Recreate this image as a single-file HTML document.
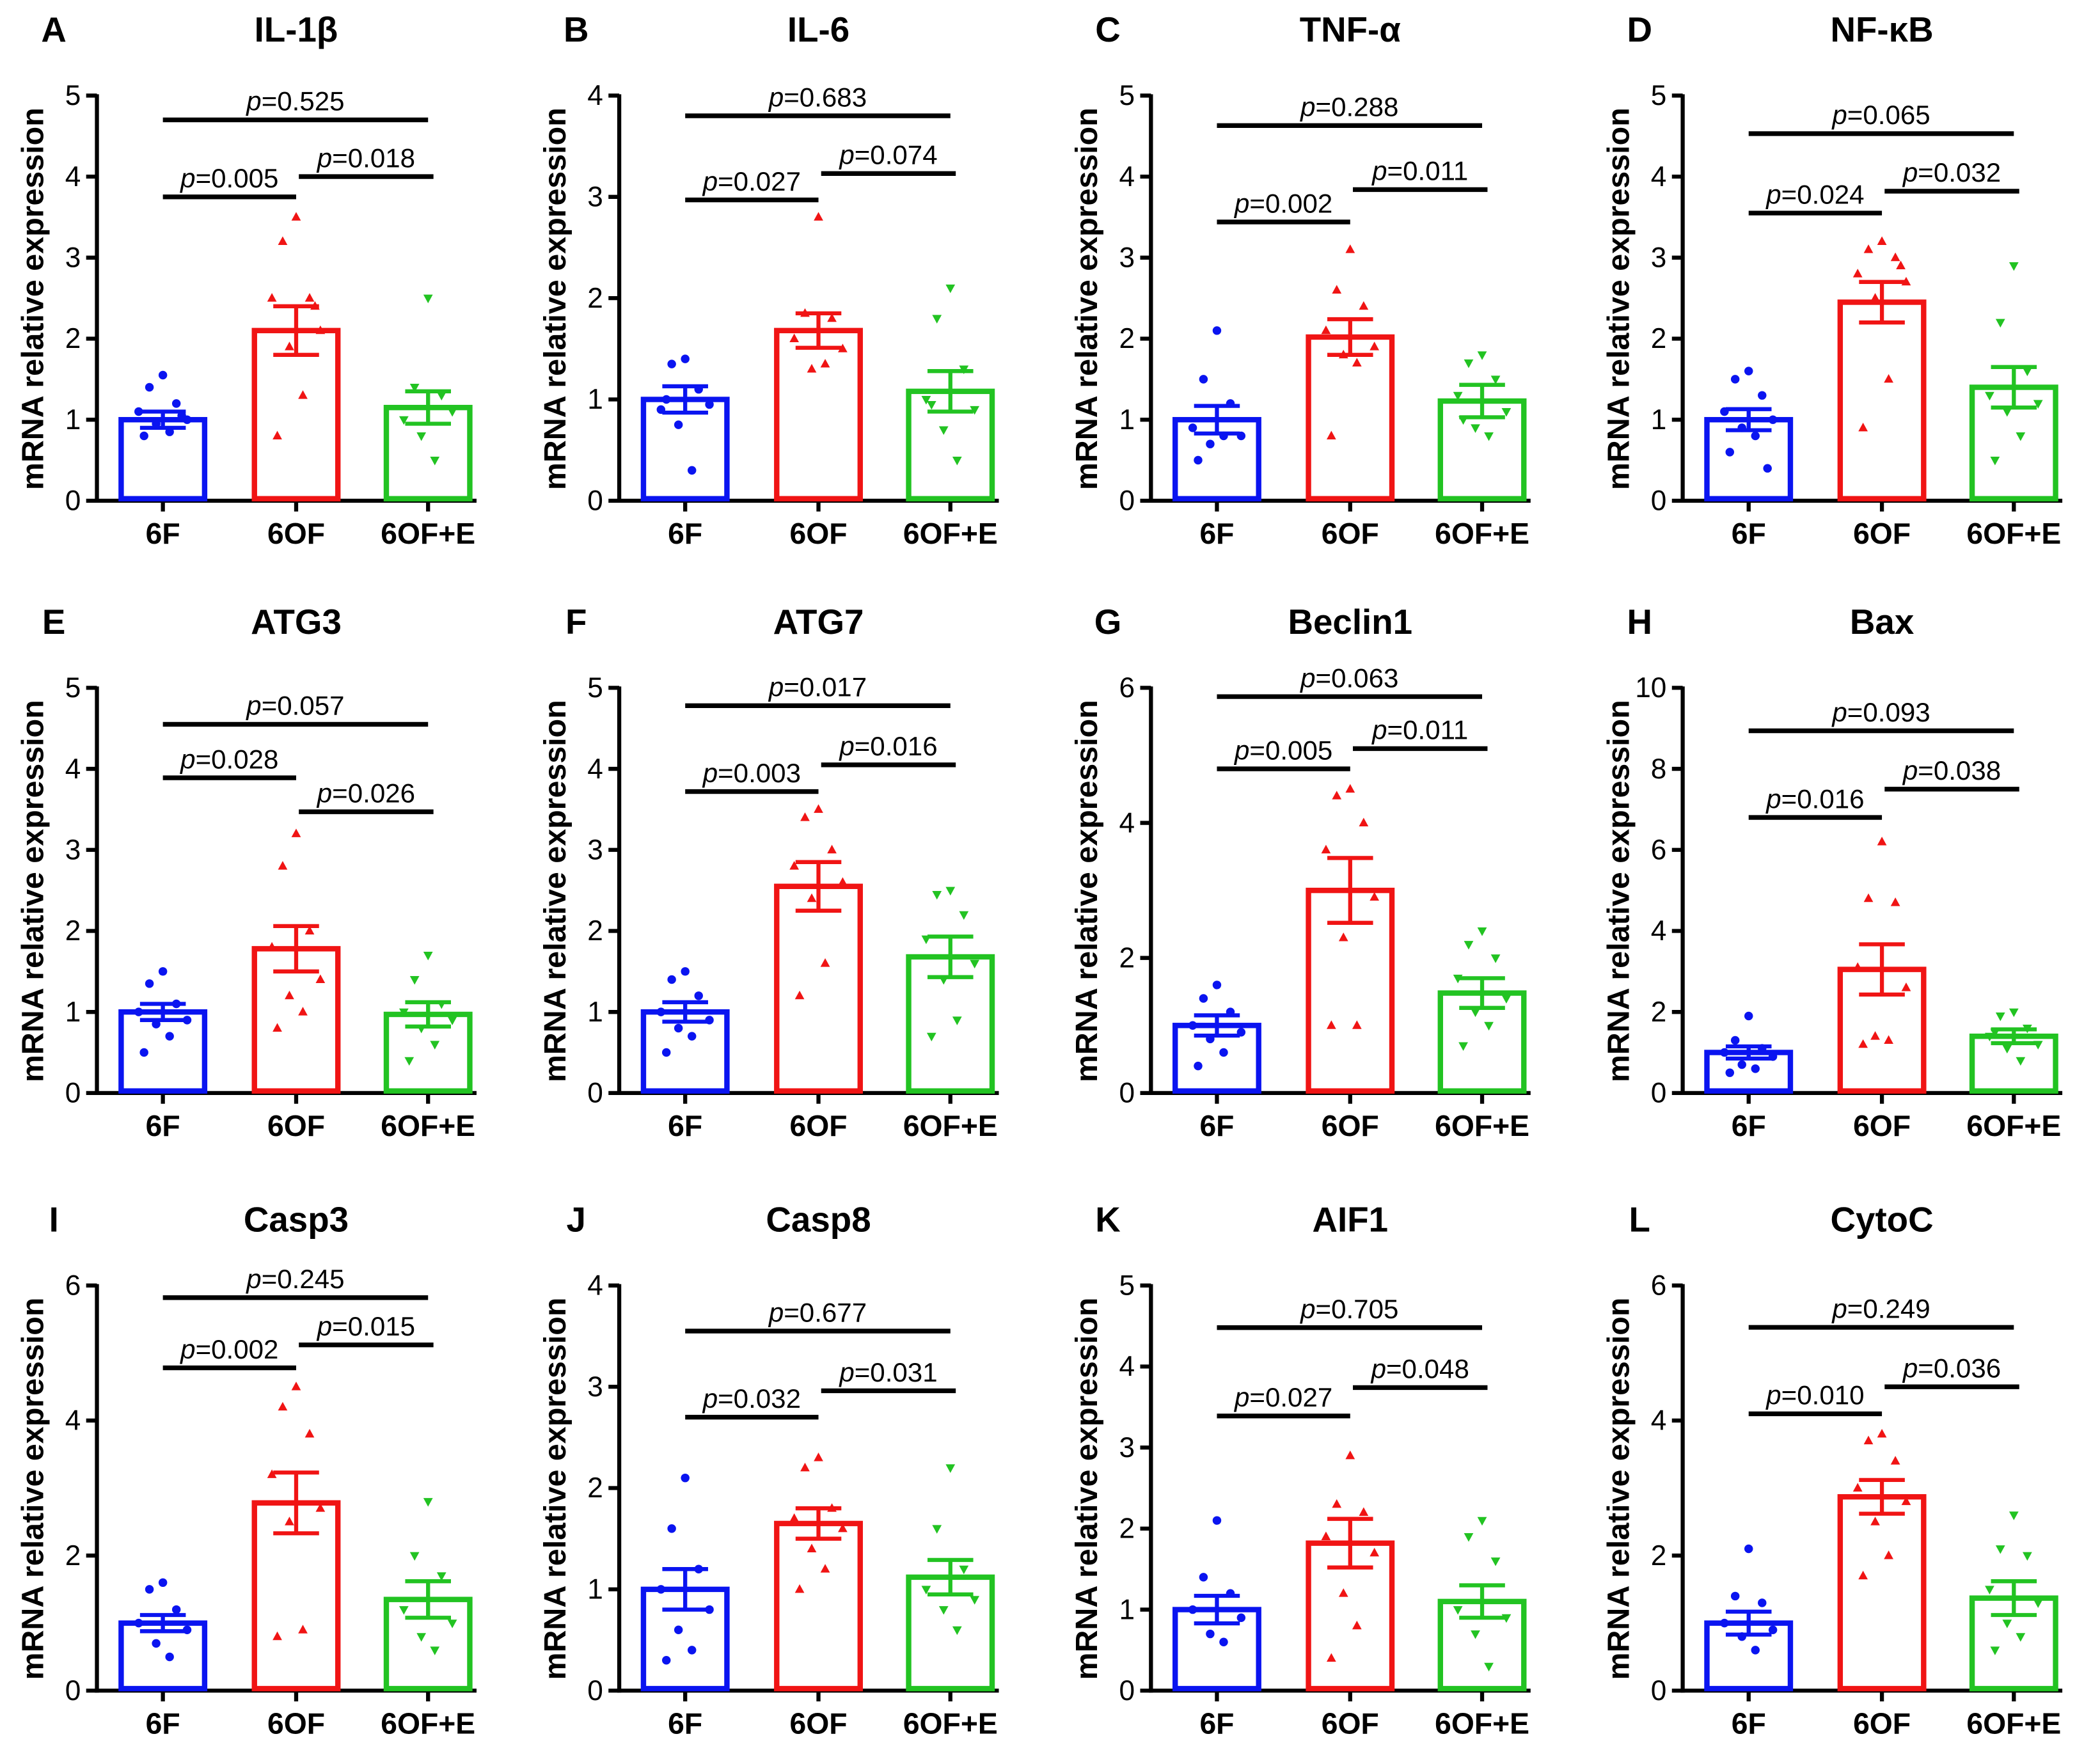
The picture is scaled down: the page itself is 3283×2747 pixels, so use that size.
<!DOCTYPE html>
<html><head><meta charset="utf-8"><style>
html,body{margin:0;padding:0;background:#fff}
svg{display:block}
text{font-family:"Liberation Sans",Arial,sans-serif}
</style></head><body>
<svg id="fig" xmlns="http://www.w3.org/2000/svg" width="3283" height="2747" viewBox="0 0 1560 1305.3"></svg>
<script>
const panelLetters=["A","B","C","D","E","F","G","H","I","J","K","L"];
const panelTitles=["IL-1β","IL-6","TNF-α","NF-κB","ATG3","ATG7","Beclin1","Bax","Casp3","Casp8","AIF1","CytoC"];
const yMaxes=[5,4,5,5,5,5,6,10,6,4,5,6];
const yStepVals=[1,1,1,1,1,1,2,2,2,1,1,2];
const groups=["6F","6OF","6OF+E"];
const means=[[1.0,2.1,1.15],[1.0,1.68,1.08],[1.0,2.02,1.23],[1.0,2.45,1.4],[1.0,1.78,0.97],[1.0,2.55,1.68],[1.0,3.0,1.48],[1.0,3.05,1.4],[1.0,2.78,1.35],[1.0,1.65,1.12],[1.0,1.82,1.1],[1.0,2.87,1.37]];
const sems=[[0.1,0.3,0.2],[0.13,0.17,0.2],[0.17,0.22,0.2],[0.13,0.25,0.25],[0.1,0.28,0.15],[0.12,0.3,0.25],[0.15,0.48,0.22],[0.15,0.62,0.17],[0.12,0.45,0.27],[0.2,0.15,0.17],[0.17,0.3,0.2],[0.17,0.25,0.25]];
const points=[
[[1.55,1.4,1.2,1.1,1.0,0.95,0.85,0.8,1.05],[3.5,3.2,2.5,2.5,2.1,1.9,1.3,0.8,2.4],[2.5,1.4,1.3,1.0,1.1,0.8,0.5]],
[[1.4,1.35,1.1,0.9,0.95,0.75,0.3,1.0],[2.8,1.85,1.8,1.6,1.5,1.3,1.35],[2.1,1.8,1.3,1.0,0.9,0.7,0.4,0.95]],
[[2.1,1.5,1.2,0.9,0.8,0.7,0.8,0.5],[3.1,2.6,2.4,2.1,1.9,1.8,1.7,0.8],[1.8,1.7,1.5,1.3,1.1,0.9,0.8,1.0]],
[[1.6,1.5,1.3,1.1,1.0,0.9,0.8,0.6,0.4],[3.2,3.1,3.0,2.8,2.7,2.5,1.5,0.9,2.9],[2.9,2.2,1.6,1.3,1.2,1.1,0.8,0.5]],
[[1.5,1.35,1.1,1.0,0.9,0.85,0.7,0.5],[3.2,2.8,2.0,1.8,1.4,1.2,1.0,0.8],[1.7,1.4,1.1,1.0,0.9,0.8,0.6,0.4]],
[[1.5,1.4,1.2,1.0,0.9,0.8,0.7,0.5],[3.5,3.4,3.0,2.8,2.6,2.4,1.6,1.2],[2.5,2.45,2.2,1.9,1.6,1.4,0.9,0.7]],
[[1.6,1.4,1.2,1.0,0.9,0.8,0.6,0.4],[4.5,4.4,4.0,3.6,2.9,2.3,1.0,1.0],[2.4,2.2,2.0,1.7,1.4,1.2,1.0,0.7]],
[[1.9,1.3,1.1,1.0,0.9,0.7,0.6,0.5],[6.2,4.8,4.7,3.1,2.6,1.4,1.3,1.2],[2.0,1.9,1.6,1.4,1.2,1.1,0.8,1.5]],
[[1.6,1.5,1.2,1.0,0.9,0.7,0.5],[4.5,4.2,3.8,3.2,2.7,2.5,0.9,0.8],[2.8,2.0,1.7,1.2,1.0,0.8,0.6]],
[[2.1,1.6,1.2,1.0,0.8,0.6,0.4,0.3],[2.3,2.2,1.8,1.7,1.6,1.4,1.2,1.0],[2.2,1.6,1.2,1.0,0.9,0.8,0.6]],
[[2.1,1.4,1.2,1.0,0.9,0.7,0.6],[2.9,2.3,2.2,1.9,1.7,1.2,0.8,0.4],[2.1,1.9,1.6,1.0,0.9,0.7,0.3]],
[[2.1,1.4,1.3,1.0,0.9,0.8,0.6],[3.8,3.7,3.4,3.0,2.8,2.5,2.0,1.7],[2.6,2.1,2.0,1.5,1.3,1.0,0.8,0.6]]];
const bracketLevels=[[3.75,4.0,4.7],[2.97,3.23,3.8],[3.44,3.84,4.63],[3.55,3.82,4.53],[3.89,3.47,4.55],[3.72,4.05,4.78],[4.8,5.1,5.87],[6.8,7.5,8.94],[4.78,5.12,5.82],[2.7,2.96,3.55],[3.39,3.74,4.48],[4.1,4.5,5.38]];
const pValues=[["0.005","0.018","0.525"],["0.027","0.074","0.683"],["0.002","0.011","0.288"],["0.024","0.032","0.065"],["0.028","0.026","0.057"],["0.003","0.016","0.017"],["0.005","0.011","0.063"],["0.016","0.038","0.093"],["0.002","0.015","0.245"],["0.032","0.031","0.677"],["0.027","0.048","0.705"],["0.010","0.036","0.249"]];

const colors=["#0a14f0","#f01414","#22c322"];
const NS="http://www.w3.org/2000/svg";
const svg=document.getElementById("fig");
function mk(tag,attrs,parent){const e=document.createElementNS(NS,tag);for(const k in attrs)e.setAttribute(k,attrs[k]);(parent||svg).appendChild(e);return e;}
const colX=[72,460,855,1250];
const rowZero=[372,812,1256];
const plotH=301;
const groupOff=[49,148,246];
const barW=62;
const jitter=[0,-10,10,-18,18,-5,5,-14,14];

for(let p=0;p<12;p++){
  const ax=colX[p%4], zy=rowZero[Math.floor(p/4)];
  const yMax=yMaxes[p];
  const Y=v=>zy-v/yMax*plotH;
  const X=g=>ax+groupOff[g];
  const G=mk("g",{});
  
  
  let t=mk("text",{x:ax-32,y:zy-341,"font-size":26,"font-weight":"bold","text-anchor":"middle"},G);t.textContent=panelLetters[p];
  
  t=mk("text",{x:ax+148,y:zy-341,"font-size":26,"font-weight":"bold","text-anchor":"middle"},G);t.textContent=panelTitles[p];
  
  t=mk("text",{x:0,y:0,"font-size":23,"font-weight":"bold","text-anchor":"middle",transform:`translate(${ax-40},${zy-150}) rotate(-90)`},G);t.textContent="mRNA relative expression";
  
  let l=mk("line",{x1:ax,y1:Y(yMax)-1,x2:ax,y2:zy+1.5,stroke:"#000","stroke-width":3},G);
  
  l=mk("line",{x1:ax-1.5,y1:zy,x2:ax+282,y2:zy,stroke:"#000","stroke-width":3},G);
  
  for(let v=0;v<=yMax;v+=yStepVals[p]){
    mk("line",{x1:ax-8,y1:Y(v),x2:ax,y2:Y(v),stroke:"#000","stroke-width":3},G);
    t=mk("text",{x:ax-12,y:Y(v)+7,"font-size":21,"text-anchor":"end"},G);t.textContent=v;
    
  }
  for(let g=0;g<3;g++){
    mk("line",{x1:X(g),y1:zy,x2:X(g),y2:zy+8,stroke:"#000","stroke-width":3},G);
    t=mk("text",{x:X(g),y:zy+32,"font-size":22,"font-weight":"bold","text-anchor":"middle"},G);t.textContent=groups[g];
    
    const m=means[p][g], s=sems[p][g], c=colors[g];
    const b=mk("rect",{x:X(g)-barW/2,y:Y(m),width:barW,height:zy-Y(m)-1.5,fill:"#fff",stroke:c,"stroke-width":4},G);
    
    
    const e=mk("path",{d:`M${X(g)},${Y(m-s)}V${Y(m+s)}M${X(g)-17},${Y(m+s)}H${X(g)+17}M${X(g)-17},${Y(m-s)}H${X(g)+17}`,stroke:c,"stroke-width":3,fill:"none"},G);
    
    points[p][g].forEach((v,i)=>{
      const px=X(g)+jitter[i%9], py=Y(v);
      let pt;
      if(g===0) pt=mk("circle",{cx:px,cy:py,r:3.2,fill:c},G);
      else if(g===1) pt=mk("path",{d:`M${px},${py-3.8}L${px+3.5},${py+2.6}L${px-3.5},${py+2.6}Z`,fill:c},G);
      else pt=mk("path",{d:`M${px},${py+3.8}L${px+3.5},${py-2.6}L${px-3.5},${py-2.6}Z`,fill:c},G);
      
      
    });
  }
  const pairs=[[0,1],[1,2],[0,2]];
  pairs.forEach((pr,k)=>{
    const y=Y(bracketLevels[p][k]);
    const x1=X(pr[0])+(k===1?2:0), x2=X(pr[1])+(k===1?4:0);
    const bl=mk("line",{x1:x1,y1:y,x2:x2,y2:y,stroke:"#000","stroke-width":3.5},G);
    
    const tx=mk("text",{x:(x1+x2)/2,y:y-7,"font-size":20,"text-anchor":"middle"},G);
    
    const ts=mk("tspan",{"font-style":"italic"},tx);ts.textContent="p";
    const ts2=mk("tspan",{},tx);ts2.textContent="="+pValues[p][k];
  });
}
</script>
</body></html>
